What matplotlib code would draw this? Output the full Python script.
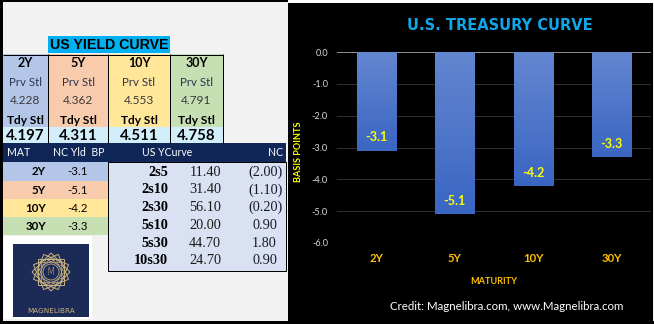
import numpy as np
import matplotlib
matplotlib.use("Agg")
import matplotlib.pyplot as plt
from matplotlib.patches import Rectangle, Polygon, Circle
from matplotlib.colors import LinearSegmentedColormap

# ---- data ----
maturities = ["2Y", "5Y", "10Y", "30Y"]
prev_settle = [4.228, 4.362, 4.553, 4.791]
today_settle = [4.197, 4.311, 4.511, 4.758]
net_change_bp = [-3.1, -5.1, -4.2, -3.3]
spread_names = ["2s5", "2s10", "2s30", "5s10", "5s30", "10s30"]
spread_values = [11.40, 31.40, 56.10, 20.00, 44.70, 24.70]
spread_change = [-2.00, -1.10, -0.20, 0.90, 1.80, 0.90]
y_ticks = [0.0, -1.0, -2.0, -3.0, -4.0, -5.0, -6.0]

W, H = 654, 324
fig = plt.figure(figsize=(W / 100, H / 100), dpi=100)
bg = fig.add_axes([0, 0, 1, 1])
bg.set_xlim(0, W)
bg.set_ylim(H, 0)
bg.axis("off")

SANS = ["Lato", "DejaVu Sans"]
SERIF = ["Liberation Serif", "DejaVu Serif"]
PX = 0.72  # one pixel in points


def rect(x0, y0, x1, y1, fc, ec="none", lw=0, z=1):
    bg.add_patch(Rectangle((x0, y0), x1 - x0, y1 - y0, facecolor=fc,
                           edgecolor=ec, linewidth=lw, zorder=z))


def line(x0, y0, x1, y1, color="black", lw=1, z=3):
    bg.plot([x0, x1], [y0, y1], color=color, lw=lw * PX, zorder=z,
            solid_capstyle="butt")


def txt(x, y, s, size, ha="center", color="black", weight="normal",
        family=SANS, z=5, **kw):
    bg.text(x, y, s, fontsize=size, ha=ha, va="center", color=color,
            fontweight=weight, family=family, zorder=z, **kw)


# ---- sheet background and frame ----
rect(0, 0, W, H, "#f2f2f2", z=0)
rect(0, 0, 288, 2, "black")
rect(0, 0, 3, H, "black")
rect(0, 321, W, H, "black")
rect(288, 0, W, 2.5, "white")
rect(288, 3, 653, 321, "black")

# ---- top yield table ----
col_colors = ["#b4c6e7", "#f8cbad", "#ffe699", "#c6e0b4"]
col_edges = [3, 48, 108, 170, 223]
rect(48, 36, 170, 53, "#00b0f0")
txt(109, 45, "US YIELD CURVE", 10.2, weight="bold",
    family=["Liberation Sans", "DejaVu Sans"])

for i, m in enumerate(maturities):
    x0, x1 = col_edges[i], col_edges[i + 1]
    xc = (x0 + x1) / 2
    rect(x0, 54, x1, 127, col_colors[i])
    rect(x0, 127, x1, 143, "#d3eefb")
    txt(xc, 63, m, 9, weight="bold")
    txt(xc, 82, "Prv Stl", 8.3, color="#2b3550")
    txt(xc, 101, f"{prev_settle[i]:.3f}", 8.6, color="#3a3a3a")
    txt(xc, 120, "Tdy Stl", 8.6, weight="bold")
    txt(xc, 135.5, f"{today_settle[i]:.3f}", 10.8, weight="bold")
line(3, 54.5, 223, 54.5)
for xe in col_edges[1:]:
    line(xe, 54, xe, 143)

# ---- net change header ----
rect(3, 143, 286, 162, "#0f2657")
txt(7, 153, "MAT", 7.6, ha="left", color="white")
txt(53, 153, "NC Yld  BP", 7.6, ha="left", color="white")
txt(142, 153, "US YCurve", 7.6, ha="left", color="white")
txt(283, 153, "NC", 7.6, ha="right", color="white")

# ---- net change by maturity ----
row_edges = [162, 181, 199, 217, 235]
for i, m in enumerate(maturities):
    y0, y1 = row_edges[i], row_edges[i + 1]
    yc = (y0 + y1) / 2
    rect(3, y0, 108, y1, col_colors[i])
    txt(46, yc, m, 8.3, ha="right", weight="bold")
    txt(78, yc, f"{net_change_bp[i]:.1f}", 8.3)

# ---- curve spreads ----
rect(108, 162, 286, 271, "#d9e1f2", ec="black", lw=1 * PX, z=2)
for i, name in enumerate(spread_names):
    yc = 172 + 17.8 * i
    txt(168, yc, name, 10.3, ha="right", weight="bold", family=SERIF)
    txt(221, yc, f"{spread_values[i]:.2f}", 10.3, ha="right", family=SERIF,
        color="#1a1a1a")
    c = spread_change[i]
    if c < 0:
        txt(283, yc, f"({abs(c):.2f})", 10.3, ha="right", family=SERIF,
            color="#1a1a2e")
    else:
        txt(277, yc, f"{c:.2f}", 10.3, ha="right", family=SERIF,
            color="#1a1a2e")

# ---- logo ----
rect(4, 236, 92, 319, "white")
rect(13, 244, 89, 317, "#1b2a56", z=2)
cx, cy, r = 51, 272, 19
gold = "#c9b37e"
for k in range(4):
    a0 = np.deg2rad(22.5 * k)
    ang = a0 + np.arange(4) * np.pi / 2 + np.pi / 4
    pts = np.c_[cx + r * np.cos(ang), cy + r * np.sin(ang)]
    bg.add_patch(Polygon(pts, closed=True, fill=False, edgecolor=gold,
                         linewidth=0.7, zorder=3))
    pts2 = np.c_[cx + 0.72 * r * np.cos(ang + np.pi / 8),
                 cy + 0.72 * r * np.sin(ang + np.pi / 8)]
    bg.add_patch(Polygon(pts2, closed=True, fill=False, edgecolor=gold,
                         linewidth=0.45, zorder=3))
bg.add_patch(Circle((cx, cy), 8, facecolor="#1b2a56", edgecolor=gold,
                    linewidth=0.6, zorder=4))
txt(cx, cy, "M", 7, color=gold, family=["DejaVu Sans"], weight="light")
txt(cx, 311, "MAGNELIBRA", 5.2, color=gold, family=["DejaVu Sans"])

# ---- treasury curve chart ----
ax = fig.add_axes([337 / W, 1 - 243 / H, (651 - 337) / W, (243 - 52) / H])
ax.patch.set_alpha(0)
x = np.arange(len(maturities))
bars = ax.bar(x, net_change_bp, width=0.5, color="#4472c4", zorder=3)
cmap = LinearSegmentedColormap.from_list("barfill", ["#6386d0", "#3a66c2"])
grad = np.linspace(0, 1, 64).reshape(-1, 1)
for b in bars:
    im = ax.imshow(grad, cmap=cmap, aspect="auto", zorder=3,
                   extent=[b.get_x(), b.get_x() + b.get_width(),
                           b.get_y() + b.get_height(), b.get_y()])
    im.set_clip_path(b)
    b.set_alpha(0)
for xi, v in zip(x, net_change_bp):
    ax.annotate(f"{v:.1f}", (xi, v), xytext=(0, 9.5),
                textcoords="offset points", ha="center", va="center",
                color="#ffff00", fontsize=9, fontweight="bold",
                family=SANS, zorder=5)

for t in y_ticks:
    ax.axhline(t, color="#8c8c8c" if t == 0 else "#2e2e2e",
               lw=1 * PX, zorder=1 if t != 0 else 2)
ax.set_xlim(-0.5, 3.5)
ax.set_ylim(-6, 0)
ax.set_yticks(y_ticks)
ax.set_yticklabels([f"{t:.1f}" for t in y_ticks], family=SANS,
                   fontsize=6.6, color="#d9d9d9")
ax.set_xticks(x)
ax.set_xticklabels(maturities, family=SANS, fontsize=8.2,
                   fontweight="bold", color="#ffc000")
ax.tick_params(axis="y", length=0, pad=6.5)
ax.tick_params(axis="x", length=0, pad=7.5)
for s in ax.spines.values():
    s.set_visible(False)
ax.set_xlabel("MATURITY", family=SANS, fontsize=6.6, fontweight="bold",
              color="#ffc000")
ax.xaxis.set_label_coords(0.5, (243 - 277) / 191)
ax.set_ylabel("BASIS POINTS", family=SANS, fontsize=6.6, fontweight="bold",
              color="#ffff00")
ax.yaxis.set_label_coords((303 - 337) / 314, 0.48)

bg.text(500, 25.5, "U.S. TREASURY CURVE", fontsize=10.5, fontweight="bold",
        color="#12a6e8", ha="center", va="center",
        family=["DejaVu Sans"], zorder=5)
bg.text(507, 306, "Credit: Magnelibra.com, www.Magnelibra.com", fontsize=8.3,
        color="white", ha="center", va="center", family=SANS, zorder=5)

fig.savefig("out.png", dpi=100)
